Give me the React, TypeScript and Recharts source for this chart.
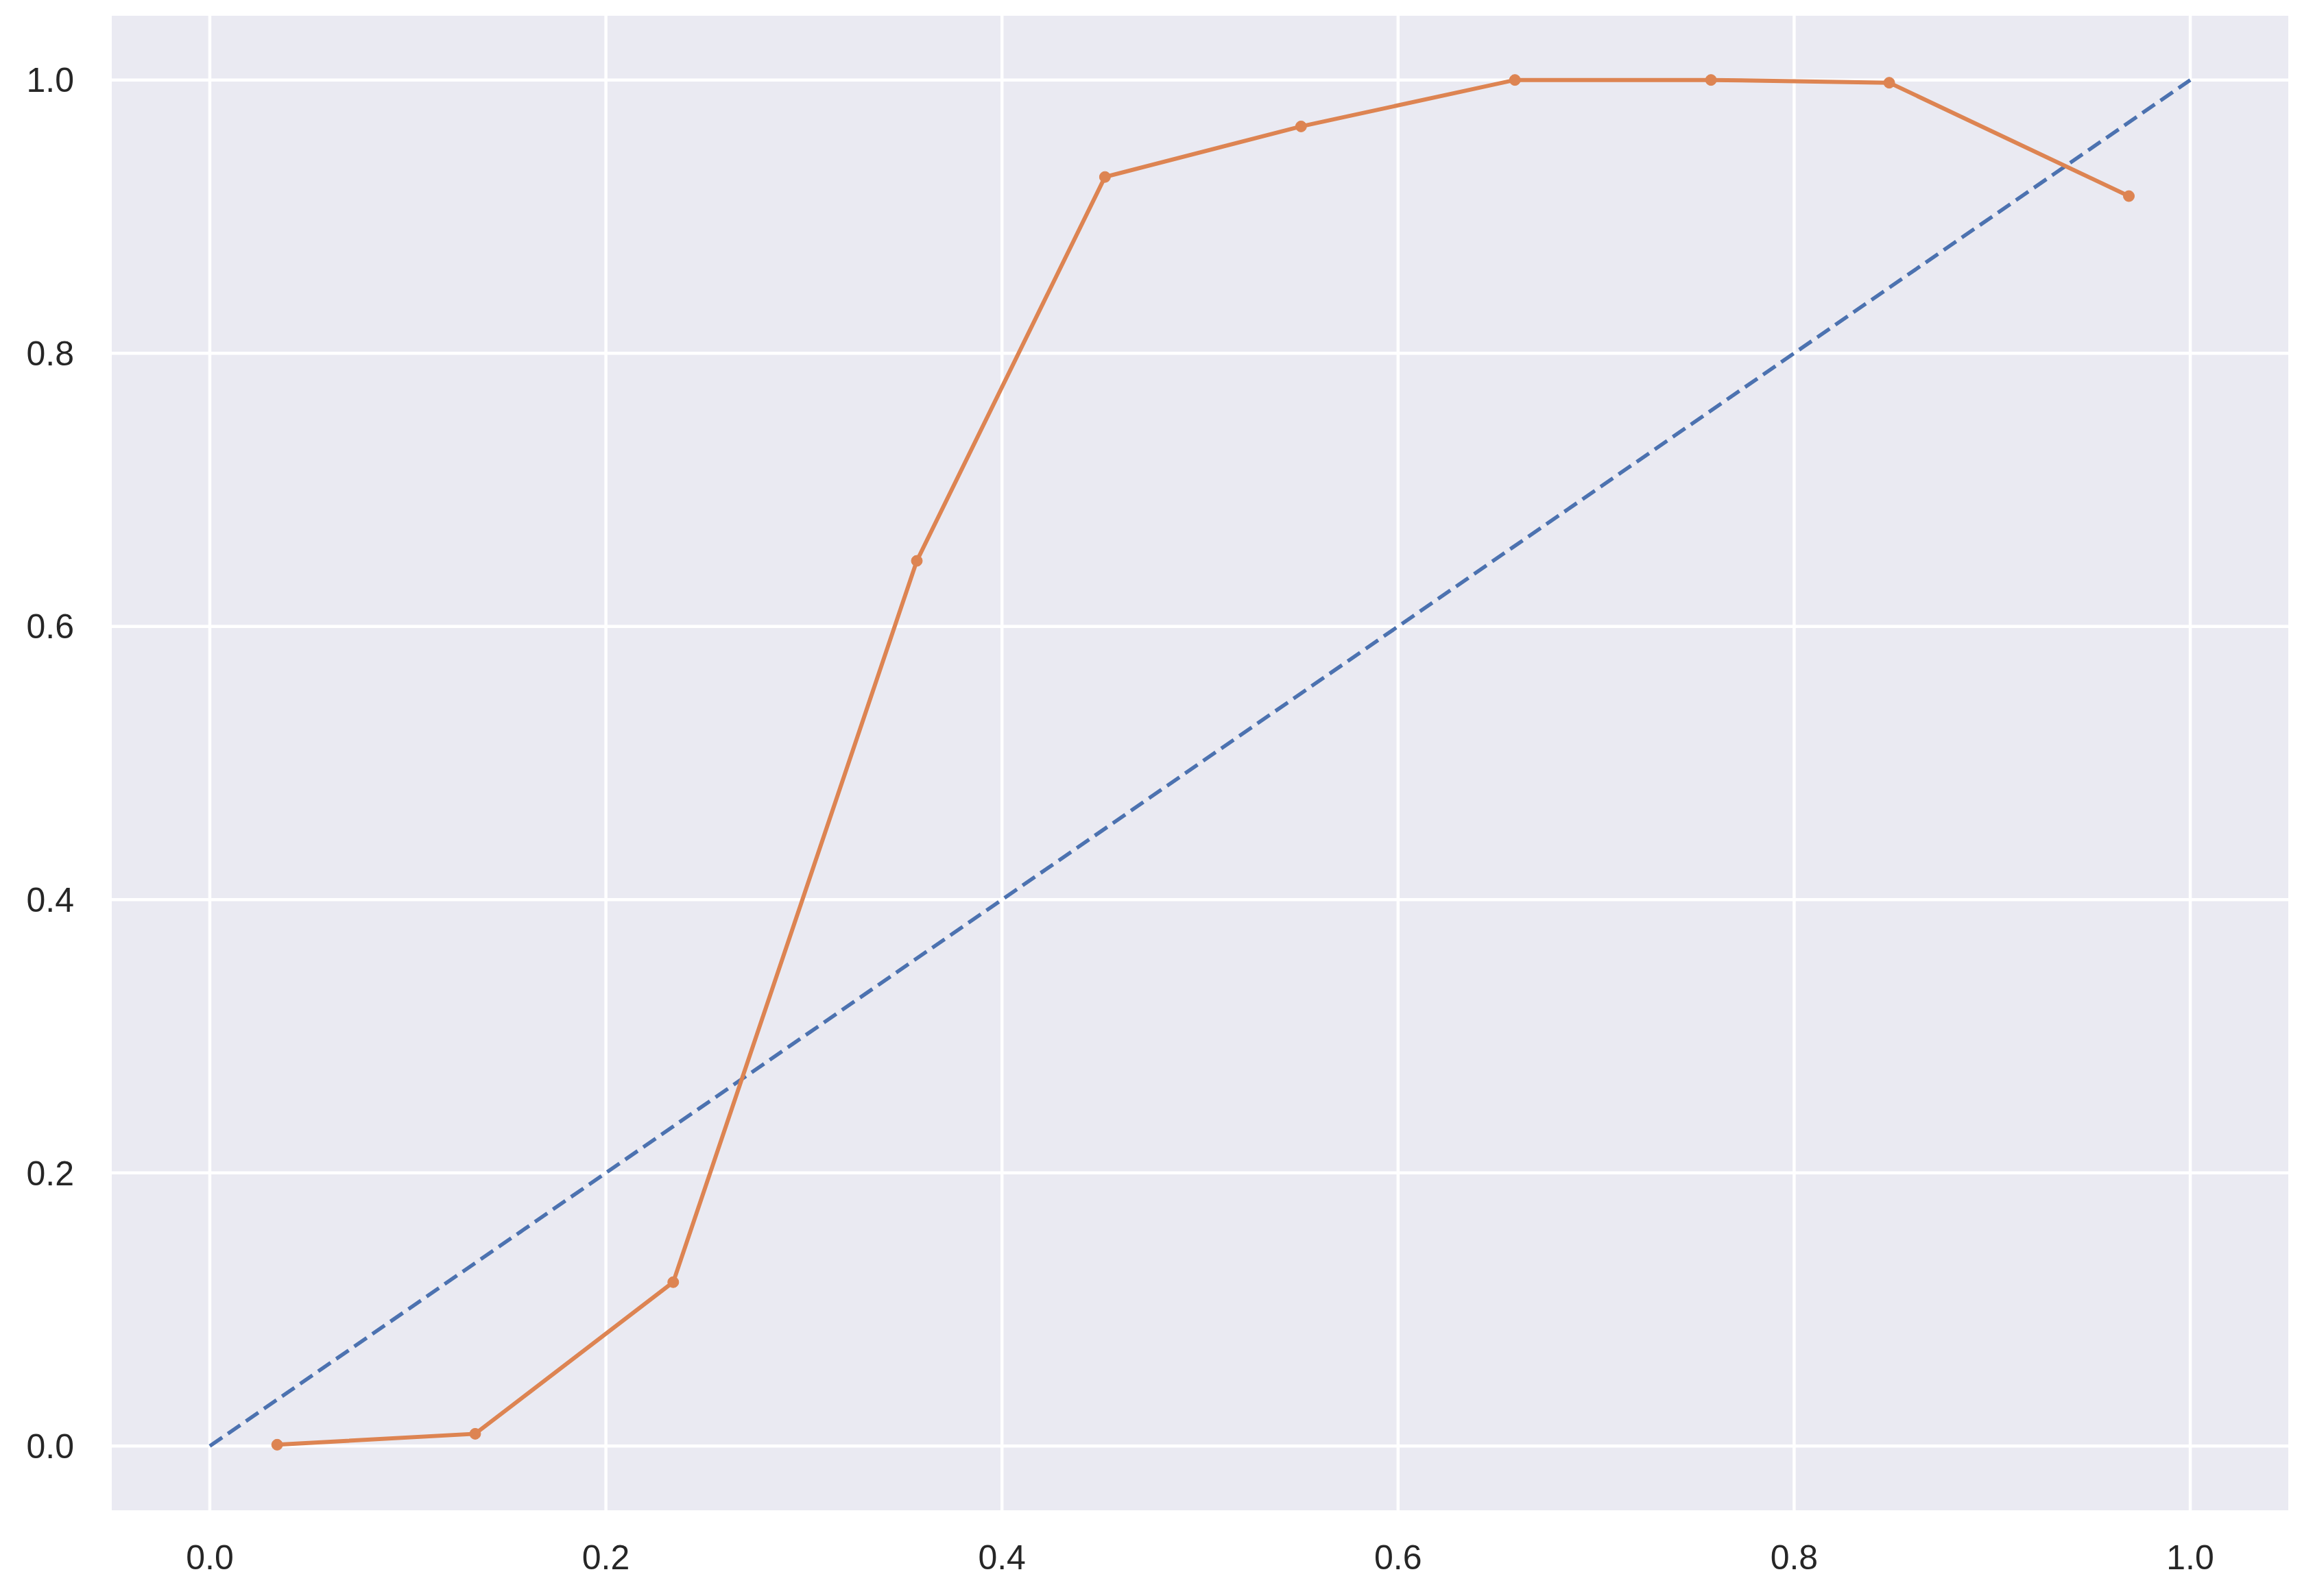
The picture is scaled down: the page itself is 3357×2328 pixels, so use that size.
import React from "react";
import {
  LineChart,
  Line,
  XAxis,
  YAxis,
  CartesianGrid,
} from "recharts";

// calibration curve points
const probPred = [0.034, 0.134, 0.234, 0.357, 0.452, 0.551, 0.659, 0.758, 0.848, 0.969];
const probTrue = [0.001, 0.009, 0.12, 0.648, 0.929, 0.966, 1.0, 1.0, 0.998, 0.915];

// perfectly calibrated reference
const diagX = [0, 1];
const diagY = [0, 1];

const xTicks = [0, 0.2, 0.4, 0.6, 0.8, 1.0];
const yTicks = [0, 0.2, 0.4, 0.6, 0.8, 1.0];

const curveData = probPred.map((x, i) => ({ x, y: probTrue[i] }));
const diagData = diagX.map((x, i) => ({ x, y: diagY[i] }));

const BLUE = "#4C72B0";
const ORANGE = "#DD8452";
const TEXT = "#262626";
const FONT = "Arial, 'Liberation Sans', sans-serif";

export default function App() {
  return (
    <div
      style={{
        position: "absolute",
        left: 0,
        top: 0,
        width: 3357,
        height: 2328,
        background: "#fff",
      }}
    >
      <LineChart
        width={3357}
        height={2328}
        margin={{ top: 23, right: 20, bottom: 0, left: 0 }}
      >
        <CartesianGrid
          fill="#EAEAF2"
          stroke="#ffffff"
          strokeWidth={4.5}
          horizontalValues={yTicks}
          verticalValues={xTicks}
        />
        <XAxis
          type="number"
          dataKey="x"
          domain={[-0.0495, 1.0495]}
          ticks={xTicks}
          allowDataOverflow
          height={125}
          axisLine={false}
          tickLine={false}
          tickSize={0}
          tickMargin={50}
          tickFormatter={(v: number) => v.toFixed(1)}
          tick={{ fontSize: 50, fill: TEXT, fontFamily: FONT }}
        />
        <YAxis
          type="number"
          dataKey="y"
          domain={[-0.047, 1.047]}
          ticks={yTicks}
          allowDataOverflow
          width={163}
          axisLine={false}
          tickLine={false}
          tickSize={0}
          tickMargin={55}
          tickFormatter={(v: number) => v.toFixed(1)}
          tick={{ fontSize: 50, fill: TEXT, fontFamily: FONT }}
        />
        <Line
          data={diagData}
          dataKey="y"
          type="linear"
          stroke={BLUE}
          strokeWidth={5.5}
          strokeDasharray="22 10"
          dot={false}
          activeDot={false}
          isAnimationActive={false}
        />
        <Line
          data={curveData}
          dataKey="y"
          type="linear"
          stroke={ORANGE}
          strokeWidth={6}
          dot={{ r: 8, fill: ORANGE, stroke: ORANGE, strokeWidth: 1 }}
          activeDot={false}
          isAnimationActive={false}
        />
      </LineChart>
    </div>
  );
}
